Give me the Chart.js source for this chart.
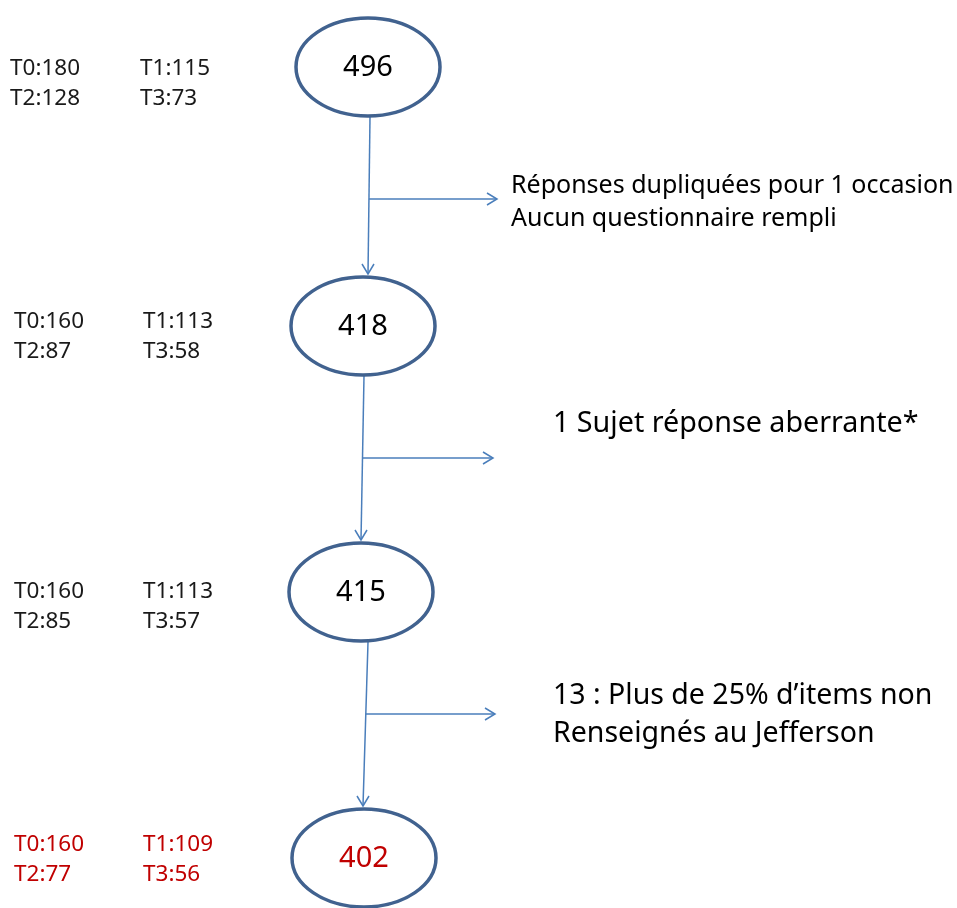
<!DOCTYPE html>
<html>
<head>
<meta charset="utf-8">
<script src="https://cdn.jsdelivr.net/npm/chart.js@4.4.1/dist/chart.umd.min.js"></script>
<style>
  html, body { margin: 0; padding: 0; background: #fff; }
  #flow { display: block; }
</style>
</head>
<body>
<canvas id="flow" width="957" height="908"></canvas>
<script>
// sample counts at each step of the selection
const nodeTotals = [496, 418, 415, 402];
const t0 = [180, 160, 160, 160];
const t1 = [115, 113, 113, 109];
const t2 = [128, 87, 85, 77];
const t3 = [73, 58, 57, 56];

// reasons for exclusion between steps
const exclusionNotes = [
    ['Réponses dupliquées pour 1 occasion', 'Aucun questionnaire rempli'],
    ['1 Sujet réponse aberrante*'],
    ['13 : Plus de 25% d\u2019items non', 'Renseignés au Jefferson'],
];

// layout (in axis units, the axes span the page)
const nodeX = [368, 363, 361, 364];
const nodeY = [67, 326, 592, 858];
const countY = [69, 322, 592, 845];
const edgeTopX = [370, 364, 368];
const edgeBottomX = [368, 361, 363];
const branchY = [199, 458, 714];
const branchEndX = [497, 493, 495];
const noteX = [511, 553, 553];
const noteY = [186, 424, 696];
const noteSize = [25, 28.7, 28.5];
const noteGap = [33, 38, 38];

const ELLIPSE_RX = 72;
const ELLIPSE_RY = 49;

const flowPlugin = {
    id: 'flow',
    afterDraw(chart) {
        const { ctx } = chart;
        const xs = chart.scales.x;
        const ys = chart.scales.y;
        const px = (v) => xs.getPixelForValue(v);
        const py = (v) => ys.getPixelForValue(v);

        ctx.save();

        // connectors + side arrows
        ctx.strokeStyle = '#4a7ebb';
        ctx.lineWidth = 1.5;
        const arrowHead = (x, y, dir) => {
            ctx.beginPath();
            if (dir === 'down') {
                ctx.moveTo(x - 6, y - 10);
                ctx.lineTo(x, y);
                ctx.lineTo(x + 6, y - 10);
            } else {
                ctx.moveTo(x - 10, y - 6);
                ctx.lineTo(x, y);
                ctx.lineTo(x - 10, y + 6);
            }
            ctx.stroke();
        };
        for (let i = 0; i < edgeTopX.length; i++) {
            const y1 = py(nodeY[i]) + ELLIPSE_RY + 1;
            const y2 = py(nodeY[i + 1]) - ELLIPSE_RY - 3;
            const xa = px(edgeTopX[i]);
            const xb = px(edgeBottomX[i]);
            ctx.beginPath();
            ctx.moveTo(xa, y1);
            ctx.lineTo(xb, y2);
            ctx.stroke();
            arrowHead(xb, y2, 'down');

            const by = py(branchY[i]);
            const bx = xa + (xb - xa) * (by - y1) / (y2 - y1);
            ctx.beginPath();
            ctx.moveTo(bx, by);
            ctx.lineTo(px(branchEndX[i]), by);
            ctx.stroke();
            arrowHead(px(branchEndX[i]), by, 'right');
        }

        // ellipses with totals
        nodeTotals.forEach((total, i) => {
            const cx = px(nodeX[i]);
            const cy = py(nodeY[i]);
            const last = i === nodeTotals.length - 1;
            ctx.beginPath();
            ctx.ellipse(cx, cy, ELLIPSE_RX, ELLIPSE_RY, 0, 0, Math.PI * 2);
            ctx.fillStyle = '#ffffff';
            ctx.fill();
            ctx.strokeStyle = '#41628f';
            ctx.lineWidth = 3.5;
            ctx.stroke();

            ctx.fillStyle = last ? '#c00000' : '#000000';
            ctx.font = '29px "Noto Sans"';
            ctx.textAlign = 'center';
            ctx.textBaseline = 'middle';
            ctx.fillText(String(total), cx, cy + 1);

            // per-wave counts on the left
            ctx.font = '22.5px "Noto Sans"';
            ctx.textAlign = 'left';
            ctx.fillStyle = last ? '#c00000' : '#1a1a1a';
            const lx0 = px(i === 0 ? 10 : 14);
            const lx1 = px(i === 0 ? 140 : 143);
            const ly = py(countY[i]);
            ctx.fillText('T0:' + t0[i], lx0, ly);
            ctx.fillText('T1:' + t1[i], lx1, ly);
            ctx.fillText('T2:' + t2[i], lx0, ly + 30);
            ctx.fillText('T3:' + t3[i], lx1, ly + 30);
        });

        // exclusion notes
        ctx.fillStyle = '#000000';
        ctx.textAlign = 'left';
        ctx.textBaseline = 'middle';
        exclusionNotes.forEach((lines, i) => {
            ctx.font = noteSize[i] + 'px "Noto Sans"';
            lines.forEach((line, j) => {
                ctx.fillText(line, px(noteX[i]), py(noteY[i]) + j * noteGap[i]);
            });
        });

        ctx.restore();
    },
};

const config = {
    type: 'scatter',
    data: {
        datasets: [{
            label: 'Effectif',
            data: nodeTotals.map((n, i) => ({ x: nodeX[i], y: nodeY[i], n })),
            pointRadius: 0,
        }],
    },
    options: {
        responsive: false,
        animation: false,
        layout: { padding: 0 },
        scales: {
            x: { type: 'linear', min: 0, max: 957, display: false },
            y: { type: 'linear', min: 0, max: 908, reverse: true, display: false },
        },
        plugins: {
            legend: { display: false },
            tooltip: { enabled: false },
        },
    },
    plugins: [flowPlugin],
};

const flowChart = new Chart(document.getElementById('flow'), config);
</script>
</body>
</html>
